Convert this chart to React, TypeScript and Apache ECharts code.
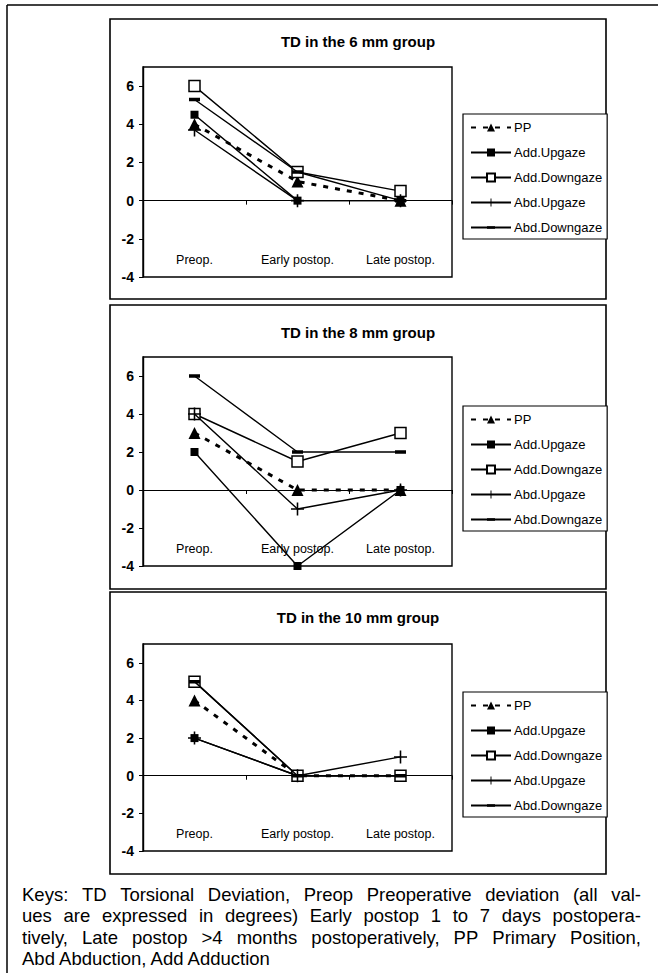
import React, { useEffect, useRef } from 'react';
import * as echarts from 'echarts';

// ---------- data ----------
const CATEGORIES = ['Preop.', 'Early postop.', 'Late postop.'];
const SERIES_NAMES = ['PP', 'Add.Upgaze', 'Add.Downgaze', 'Abd.Upgaze', 'Abd.Downgaze'];
const Y_TICKS = [-4, -2, 0, 2, 4, 6];

const TITLES = ['TD in the 6 mm group', 'TD in the 8 mm group', 'TD in the 10 mm group'];

const G6_PP = [4, 1, 0];
const G6_ADD_UP = [4.5, 0, 0];
const G6_ADD_DOWN = [6, 1.5, 0.5];
const G6_ABD_UP = [3.7, 0, 0];
const G6_ABD_DOWN = [5.3, 1.5, 0];

const G8_PP = [3, 0, 0];
const G8_ADD_UP = [2, -4, 0];
const G8_ADD_DOWN = [4, 1.5, 3];
const G8_ABD_UP = [4, -1, 0];
const G8_ABD_DOWN = [6, 2, 2];

const G10_PP = [4, 0, 0];
const G10_ADD_UP = [2, 0, 0];
const G10_ADD_DOWN = [5, 0, 0];
const G10_ABD_UP = [2, 0, 1];
const G10_ABD_DOWN = [5, 0, 0];

const GROUPS = [
  [G6_PP, G6_ADD_UP, G6_ADD_DOWN, G6_ABD_UP, G6_ABD_DOWN],
  [G8_PP, G8_ADD_UP, G8_ADD_DOWN, G8_ABD_UP, G8_ABD_DOWN],
  [G10_PP, G10_ADD_UP, G10_ADD_DOWN, G10_ABD_UP, G10_ABD_DOWN],
];

const CAPTION_LINES = [
  'Keys: TD Torsional Deviation, Preop Preoperative deviation (all val-',
  'ues are expressed in degrees) Early postop 1 to 7 days postopera-',
  'tively, Late postop >4 months postoperatively, PP Primary Position,',
  'Abd Abduction, Add Adduction',
];

// ---------- layout & style ----------
const FONT = '"Liberation Sans", Arial, Helvetica, sans-serif';
const LAYOUT = [
  { frameTop: 19, frameH: 280, titleY: 41, gridTop: 67, gridH: 210, legendTop: 114 },
  { frameTop: 305, frameH: 284, titleY: 332, gridTop: 357, gridH: 209, legendTop: 406 },
  { frameTop: 592, frameH: 282, titleY: 617, gridTop: 644, gridH: 207, legendTop: 692 },
];
const FRAME_X = 110;
const FRAME_W = 496;
const GRID_LEFT = 143;
const GRID_W = 309;

const PLUS = 'path://M4.4,0H5.6V4.4H10V5.6H5.6V10H4.4V5.6H0V4.4H4.4Z';
// a thick short bar centred in a 10x10 box (the two degenerate points keep the box square)
const DASH = 'path://M0,3.4H10V6.6H0Z M5,0L5.01,0L5.01,0.01Z M5,10L5.01,10L5.01,9.99Z';

const STYLES: any[] = [
  {
    symbol: 'triangle', symbolSize: 12,
    lineStyle: { color: '#000', width: 3, type: [5, 7] },
    itemStyle: { color: '#000' },
  },
  {
    symbol: 'rect', symbolSize: 8,
    lineStyle: { color: '#000', width: 1.4 },
    itemStyle: { color: '#000' },
  },
  {
    symbol: 'rect', symbolSize: 11,
    lineStyle: { color: '#000', width: 1.4 },
    itemStyle: { color: '#fff', borderColor: '#000', borderWidth: 1.5 },
  },
  {
    symbol: PLUS, symbolSize: 13,
    lineStyle: { color: '#000', width: 1.4 },
    itemStyle: { color: '#000' },
  },
  {
    symbol: DASH, symbolSize: 11,
    lineStyle: { color: '#000', width: 1.4 },
    itemStyle: { color: '#000' },
  },
];

function buildCaption(): any[] {
  const out: any[] = [];
  const fontSize = 18.5;
  const left = 22;
  const right = 641;
  const y0 = 894;
  const lh = 21.5;
  const canvas = document.createElement('canvas');
  const ctx = canvas.getContext('2d') as CanvasRenderingContext2D;
  ctx.font = `${fontSize}px "Liberation Sans"`;
  CAPTION_LINES.forEach((line, i) => {
    const y = y0 + i * lh;
    const justify = i < CAPTION_LINES.length - 1;
    if (!justify) {
      out.push({
        type: 'text', x: left, y,
        style: { text: line, fontSize, fontFamily: FONT, fill: '#000', align: 'left', verticalAlign: 'middle' },
      });
      return;
    }
    const words = line.split(' ');
    const widths = words.map((w) => ctx.measureText(w).width);
    const total = widths.reduce((a, b) => a + b, 0);
    const gap = (right - left - total) / (words.length - 1);
    let x = left;
    words.forEach((w, k) => {
      out.push({
        type: 'text', x, y,
        style: { text: w, fontSize, fontFamily: FONT, fill: '#000', align: 'left', verticalAlign: 'middle' },
      });
      x += widths[k] + gap;
    });
  });
  return out;
}

export default function App() {
  const ref = useRef<HTMLDivElement>(null);

  useEffect(() => {
    if (!ref.current) return;
    const chart = echarts.init(ref.current, undefined, { renderer: 'svg' });

    const grids: any[] = [];
    const xAxes: any[] = [];
    const yAxes: any[] = [];
    const legends: any[] = [];
    const series: any[] = [];
    const graphics: any[] = [];

    // outer frame
    graphics.push({ type: 'line', shape: { x1: 7, y1: 5, x2: 658, y2: 5 }, style: { stroke: '#000', lineWidth: 1.5 } });
    graphics.push({ type: 'line', shape: { x1: 7, y1: 5, x2: 7, y2: 973 }, style: { stroke: '#000', lineWidth: 1.5 } });

    LAYOUT.forEach((L, g) => {
      graphics.push({
        type: 'rect',
        shape: { x: FRAME_X, y: L.frameTop, width: FRAME_W, height: L.frameH },
        style: { fill: 'none', stroke: '#000', lineWidth: 1.6 },
      });
      graphics.push({
        type: 'text', x: 358, y: L.titleY,
        style: { text: TITLES[g], fontSize: 15, fontWeight: 'bold', fontFamily: FONT, fill: '#000', align: 'center', verticalAlign: 'middle' },
      });

      grids.push({
        show: true, left: GRID_LEFT, top: L.gridTop, width: GRID_W, height: L.gridH,
        borderColor: '#000', borderWidth: 1.4, backgroundColor: 'transparent',
      });
      // axis line on zero with ticks
      xAxes.push({
        type: 'category', gridIndex: g, data: CATEGORIES, position: 'bottom', boundaryGap: true,
        axisLine: { show: true, onZero: true, lineStyle: { color: '#000', width: 1.2 } },
        axisTick: { show: true, length: 4, lineStyle: { color: '#000' } },
        axisLabel: { show: false },
        splitLine: { show: false },
      });
      // label axis at the bottom (labels inside the plot)
      xAxes.push({
        type: 'category', gridIndex: g, data: CATEGORIES, position: 'bottom', boundaryGap: true,
        axisLine: { show: false, onZero: false },
        axisTick: { show: false },
        axisLabel: { show: true, inside: true, margin: 11, fontSize: 12.5, color: '#000', fontFamily: FONT },
        splitLine: { show: false },
      });
      yAxes.push({
        type: 'value', gridIndex: g, min: -4, max: 7, interval: 2,
        axisLine: { show: true, lineStyle: { color: '#000', width: 1.4 } },
        axisTick: { show: true, length: 4, customValues: Y_TICKS, lineStyle: { color: '#000' } },
        axisLabel: {
          show: true, customValues: Y_TICKS, margin: 9, fontSize: 14, fontWeight: 'bold', color: '#000', fontFamily: FONT,
        },
        splitLine: { show: false },
      });
      legends.push({
        show: true, orient: 'vertical', left: 463, top: L.legendTop,
        data: SERIES_NAMES, selectedMode: false,
        itemWidth: 40, itemHeight: 10, itemGap: 12,
        padding: [7, 5, 5, 7],
        borderColor: '#000', borderWidth: 1.2, backgroundColor: '#fff',
        textStyle: { fontSize: 13, color: '#000', fontFamily: FONT, padding: [0, 0, 0, -2] },
      });

      GROUPS[g].forEach((vals, s) => {
        series.push({
          type: 'line', name: SERIES_NAMES[s],
          xAxisIndex: g * 2, yAxisIndex: g,
          data: vals,
          showSymbol: true,
          ...STYLES[s],
          z: 3 + s,
        });
      });
    });

    graphics.push(...buildCaption());

    chart.setOption({
      animation: false,
      backgroundColor: '#fff',
      textStyle: { fontFamily: FONT },
      grid: grids,
      xAxis: xAxes,
      yAxis: yAxes,
      legend: legends,
      series,
      graphic: graphics,
    });

    return () => chart.dispose();
  }, []);

  return <div ref={ref} style={{ position: 'absolute', left: 0, top: 0, width: 658, height: 973 }} />;
}
